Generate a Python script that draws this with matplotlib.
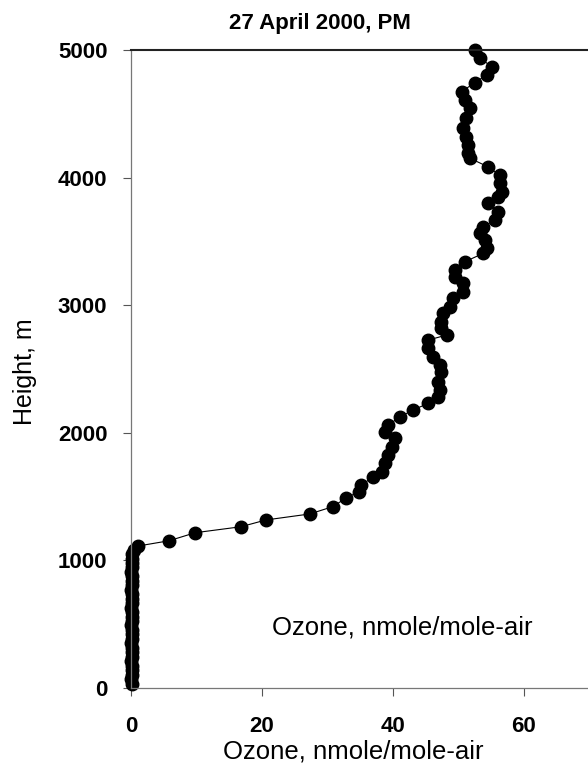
import matplotlib
matplotlib.use('Agg')
import matplotlib.pyplot as plt

plt.rcParams['font.family'] = ['Liberation Sans', 'DejaVu Sans']

# ozone profile (top to bottom)
ozone = [52.5, 53.3, 55.1, 54.3, 52.5, 50.5, 51.0, 51.8, 51.2, 50.7,
         51.2, 51.5, 51.5, 51.8, 54.5, 56.3, 56.3, 56.6, 56.1, 54.5,
         56.1, 55.6, 53.8, 53.3, 54.0, 54.3, 53.8, 51.0, 49.5, 49.5,
         50.7, 50.7, 49.2, 48.7, 47.7, 47.4, 47.4, 48.2, 45.4, 45.4,
         46.2, 47.2, 47.4, 46.9, 47.2, 46.9, 45.4, 43.1, 41.1, 39.3,
         38.8, 40.3, 39.8, 39.3, 38.8, 38.3, 37.0, 35.2, 34.8, 32.8,
         30.8, 27.3, 20.6, 16.8, 9.8, 5.8, 1.1, 0.4,
         0.2, 0.1, 0.1, 0.1, 0.0, 0.1, 0.1, 0.1, 0.0, 0.1,
         0.1, 0.1, 0.0, 0.1, 0.1, 0.1, 0.0, 0.1, 0.1, 0.1,
         0.0, 0.1, 0.1, 0.1, 0.0, 0.1, 0.1, 0.1, 0.0, 0.1]
height = [5000, 4935, 4870, 4804, 4744, 4673, 4608, 4543, 4465, 4386,
          4321, 4255, 4190, 4151, 4085, 4020, 3955, 3890, 3851, 3800,
          3734, 3668, 3616, 3564, 3511, 3446, 3406, 3341, 3276, 3223,
          3171, 3106, 3053, 2988, 2936, 2871, 2818, 2766, 2727, 2662,
          2596, 2531, 2479, 2401, 2335, 2283, 2231, 2179, 2126, 2061,
          2009, 1956, 1891, 1826, 1761, 1695, 1656, 1591, 1539, 1487,
          1421, 1364, 1317, 1264, 1217, 1154, 1113, 1082,
          1050, 1015, 980, 945, 910, 875, 840, 805, 770, 735,
          700, 665, 630, 595, 560, 525, 490, 455, 420, 385,
          350, 315, 280, 245, 210, 175, 140, 105, 70, 35]

x_ticks = [0, 20, 40, 60]
y_ticks = [0, 1000, 2000, 3000, 4000, 5000]

fig = plt.figure(figsize=(5.88, 7.69), dpi=100)
ax = fig.add_axes([0.2228, 0.1053, 0.7772, 0.8297])

ax.plot(ozone, height, color='black', lw=0.8, marker='o', markersize=9,
        markerfacecolor='black', markeredgecolor='black', clip_on=False)

ax.set_xlim(0, 69.8)
ax.set_ylim(0, 5000)
ax.set_xticks(x_ticks)
ax.set_yticks(y_ticks)
ax.tick_params(direction='out', length=6, width=0.8, color='#555555',
               labelsize=16)
ax.tick_params(axis='x', pad=14)
ax.tick_params(axis='y', pad=11)
for lab in ax.get_xticklabels() + ax.get_yticklabels():
    lab.set_fontweight('bold')

ax.spines['right'].set_visible(False)
for s in ['left', 'bottom']:
    ax.spines[s].set_color('#777777')
    ax.spines[s].set_linewidth(0.9)
ax.spines['top'].set_color('#222222')
ax.spines['top'].set_linewidth(1.5)

W, H = 588, 769
fig.text(353 / W, 1 - 752 / H, 'Ozone, nmole/mole-air', ha='center',
         va='center', fontsize=18.5)
fig.text(25 / W, 1 - 372 / H, 'Height, m', ha='center', va='center',
         rotation=90, fontsize=18)
fig.text(320 / W, 1 - 23 / H, '27 April 2000, PM', ha='center',
         va='center', fontsize=16, fontweight='bold')
fig.text(272 / W, 1 - 628 / H, 'Ozone, nmole/mole-air', ha='left',
         va='center', fontsize=18.5)

fig.savefig('out.png', dpi=100)
